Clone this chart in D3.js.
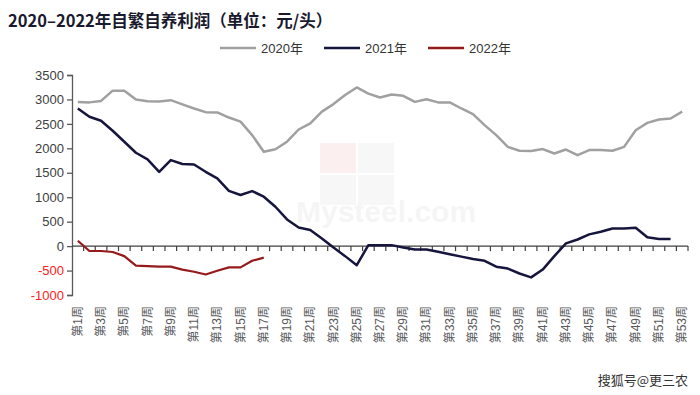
<!DOCTYPE html>
<html>
<head>
<meta charset="utf-8">
<script src="https://cdn.jsdelivr.net/npm/d3@7"></script>
<style>
  body { margin: 0; background: #fff; }
  svg { display: block; font-family: "Liberation Sans", Arial, "Noto Sans CJK SC", sans-serif; }
</style>
</head>
<body>
<div id="chart"></div>
<script>
// weeks 1..53
let weeks = d3.range(1, 54).map(d => "第" + d + "周")
let yTicks = [-1000, -500, 0, 500, 1000, 1500, 2000, 2500, 3000, 3500]

let data2020 = [2950, 2940, 2970, 3180, 3180, 3000, 2965, 2960, 2985, 2900,
                2815, 2740, 2735, 2630, 2545, 2270, 1930, 1980, 2135, 2385,
                2510, 2750, 2905, 3090, 3245, 3120, 3040, 3100, 3075, 2950,
                3005, 2940, 2940, 2815, 2700, 2475, 2270, 2030, 1950, 1945,
                1985, 1895, 1975, 1860, 1965, 1965, 1950, 2030, 2370, 2520,
                2590, 2610, 2750]
let data2021 = [2815, 2645, 2565, 2360, 2135, 1910, 1775, 1520, 1760, 1680,
                1670, 1520, 1385, 1130, 1045, 1125, 1010, 805, 545, 380,
                330, 155, -30, -205, -390, 20, 20, 20, -30, -70,
                -70, -115, -165, -215, -265, -300, -420, -460, -560, -640,
                -480, -205, 55, 135, 240, 295, 360, 360, 375, 180,
                145, 145]
let data2022 = [110, -100, -100, -120, -205, -400, -410, -420, -420, -480,
                -525, -580, -505, -435, -435, -300, -235]

let series = [
    {name: "2020年", values: data2020, color: "#a0a0a0", width: 2.5},
    {name: "2021年", values: data2021, color: "#15153d", width: 2.5},
    {name: "2022年", values: data2022, color: "#961a1c", width: 2.2}
]

let width = 700
let height = 395
let plotLeft = 72, plotRight = 688, plotTop = 75, plotBottom = 295

const svg = d3.select("#chart")
    .append("svg")
    .attr("width", width)
    .attr("height", height)

// faint watermark
let wm = svg.append("g").attr("opacity", 0.06)
wm.append("rect").attr("x", 320).attr("y", 143).attr("width", 36).attr("height", 30).attr("fill", "#c00")
wm.append("rect").attr("x", 358).attr("y", 143).attr("width", 36).attr("height", 30).attr("fill", "#888")
wm.append("rect").attr("x", 320).attr("y", 175).attr("width", 36).attr("height", 30).attr("fill", "#888")
wm.append("rect").attr("x", 358).attr("y", 175).attr("width", 36).attr("height", 30).attr("fill", "#888")
wm.append("text").attr("x", 296).attr("y", 222)
    .attr("font-size", 30).attr("font-weight", "bold").attr("fill", "#666")
    .text("Mysteel.com")

let x = d3.scaleBand().domain(weeks).range([plotLeft, plotRight])
let y = d3.scaleLinear().domain([-1000, 3500]).range([plotBottom, plotTop])

// title
svg.append("text")
    .attr("x", 8).attr("y", 27)
    .attr("font-size", 16.5).attr("font-weight", "bold")
    .attr("font-family", "'Noto Sans CJK SC', sans-serif")
    .attr("fill", "#1a1a2e")
    .text("2020–2022年自繁自养利润（单位：元/头）")

// legend
let legendX = [220, 324, 428]
let legend = svg.append("g")
series.forEach((s, i) => {
    legend.append("line")
        .attr("x1", legendX[i]).attr("x2", legendX[i] + 36)
        .attr("y1", 48).attr("y2", 48)
        .attr("stroke", s.color).attr("stroke-width", 2.5)
    legend.append("text")
        .attr("x", legendX[i] + 41).attr("y", 53)
        .attr("font-size", 13).attr("fill", "#333")
        .text(s.name)
})

// y axis
const yAxis = d3.axisLeft(y).tickValues(yTicks).tickSize(5).tickPadding(3)
    .tickFormat(d => String(d))
let gy = svg.append("g")
    .attr("transform", `translate(${plotLeft},0)`)
    .call(yAxis)
gy.select(".domain").attr("stroke", "#595959").attr("stroke-width", 1.3)
gy.selectAll(".tick line").attr("stroke", "#595959").attr("stroke-width", 1.3)
gy.selectAll(".tick text")
    .attr("font-size", 13)
    .attr("font-family", "'Liberation Sans', Arial, sans-serif")
    .attr("fill", d => d < 0 ? "#ff2020" : "#404040")

// x axis along zero line
let gx = svg.append("g").attr("transform", `translate(0,${y(0)})`)
gx.append("line")
    .attr("x1", plotLeft).attr("x2", plotRight)
    .attr("stroke", "#404040").attr("stroke-width", 1.3)
gx.selectAll("line.tk")
    .data(weeks)
    .enter()
    .append("line")
    .attr("class", "tk")
    .attr("x1", d => x(d) + x.bandwidth()).attr("x2", d => x(d) + x.bandwidth())
    .attr("y1", 0).attr("y2", 5)
    .attr("stroke", "#404040").attr("stroke-width", 1.2)

// x labels (odd weeks)
svg.append("g")
    .selectAll("text")
    .data(weeks.filter((d, i) => i % 2 == 0))
    .enter()
    .append("text")
    .attr("transform", d => `translate(${x(d) + x.bandwidth() / 2 + 4},306) rotate(-90)`)
    .attr("text-anchor", "end")
    .attr("font-size", 12)
    .attr("fill", "#5a5a5a")
    .attr("font-family", "'Liberation Sans', Arial, 'Noto Sans CJK SC', sans-serif")
    .text(d => d)

// lines
let line = d3.line()
    .x((d, i) => x(weeks[i]) + x.bandwidth() / 2)
    .y(d => y(d))

series.forEach(s => {
    svg.append("path")
        .datum(s.values)
        .attr("d", line)
        .attr("fill", "none")
        .attr("stroke", s.color)
        .attr("stroke-width", s.width)
        .attr("stroke-linejoin", "round")
})

// source mark
svg.append("text")
    .attr("x", 688).attr("y", 385)
    .attr("text-anchor", "end")
    .attr("font-size", 13)
    .attr("font-family", "'Noto Sans CJK SC', sans-serif")
    .attr("fill", "#333")
    .attr("stroke", "#fff").attr("stroke-width", 2.5).attr("paint-order", "stroke")
    .text("搜狐号@更三农")
</script>
</body>
</html>
